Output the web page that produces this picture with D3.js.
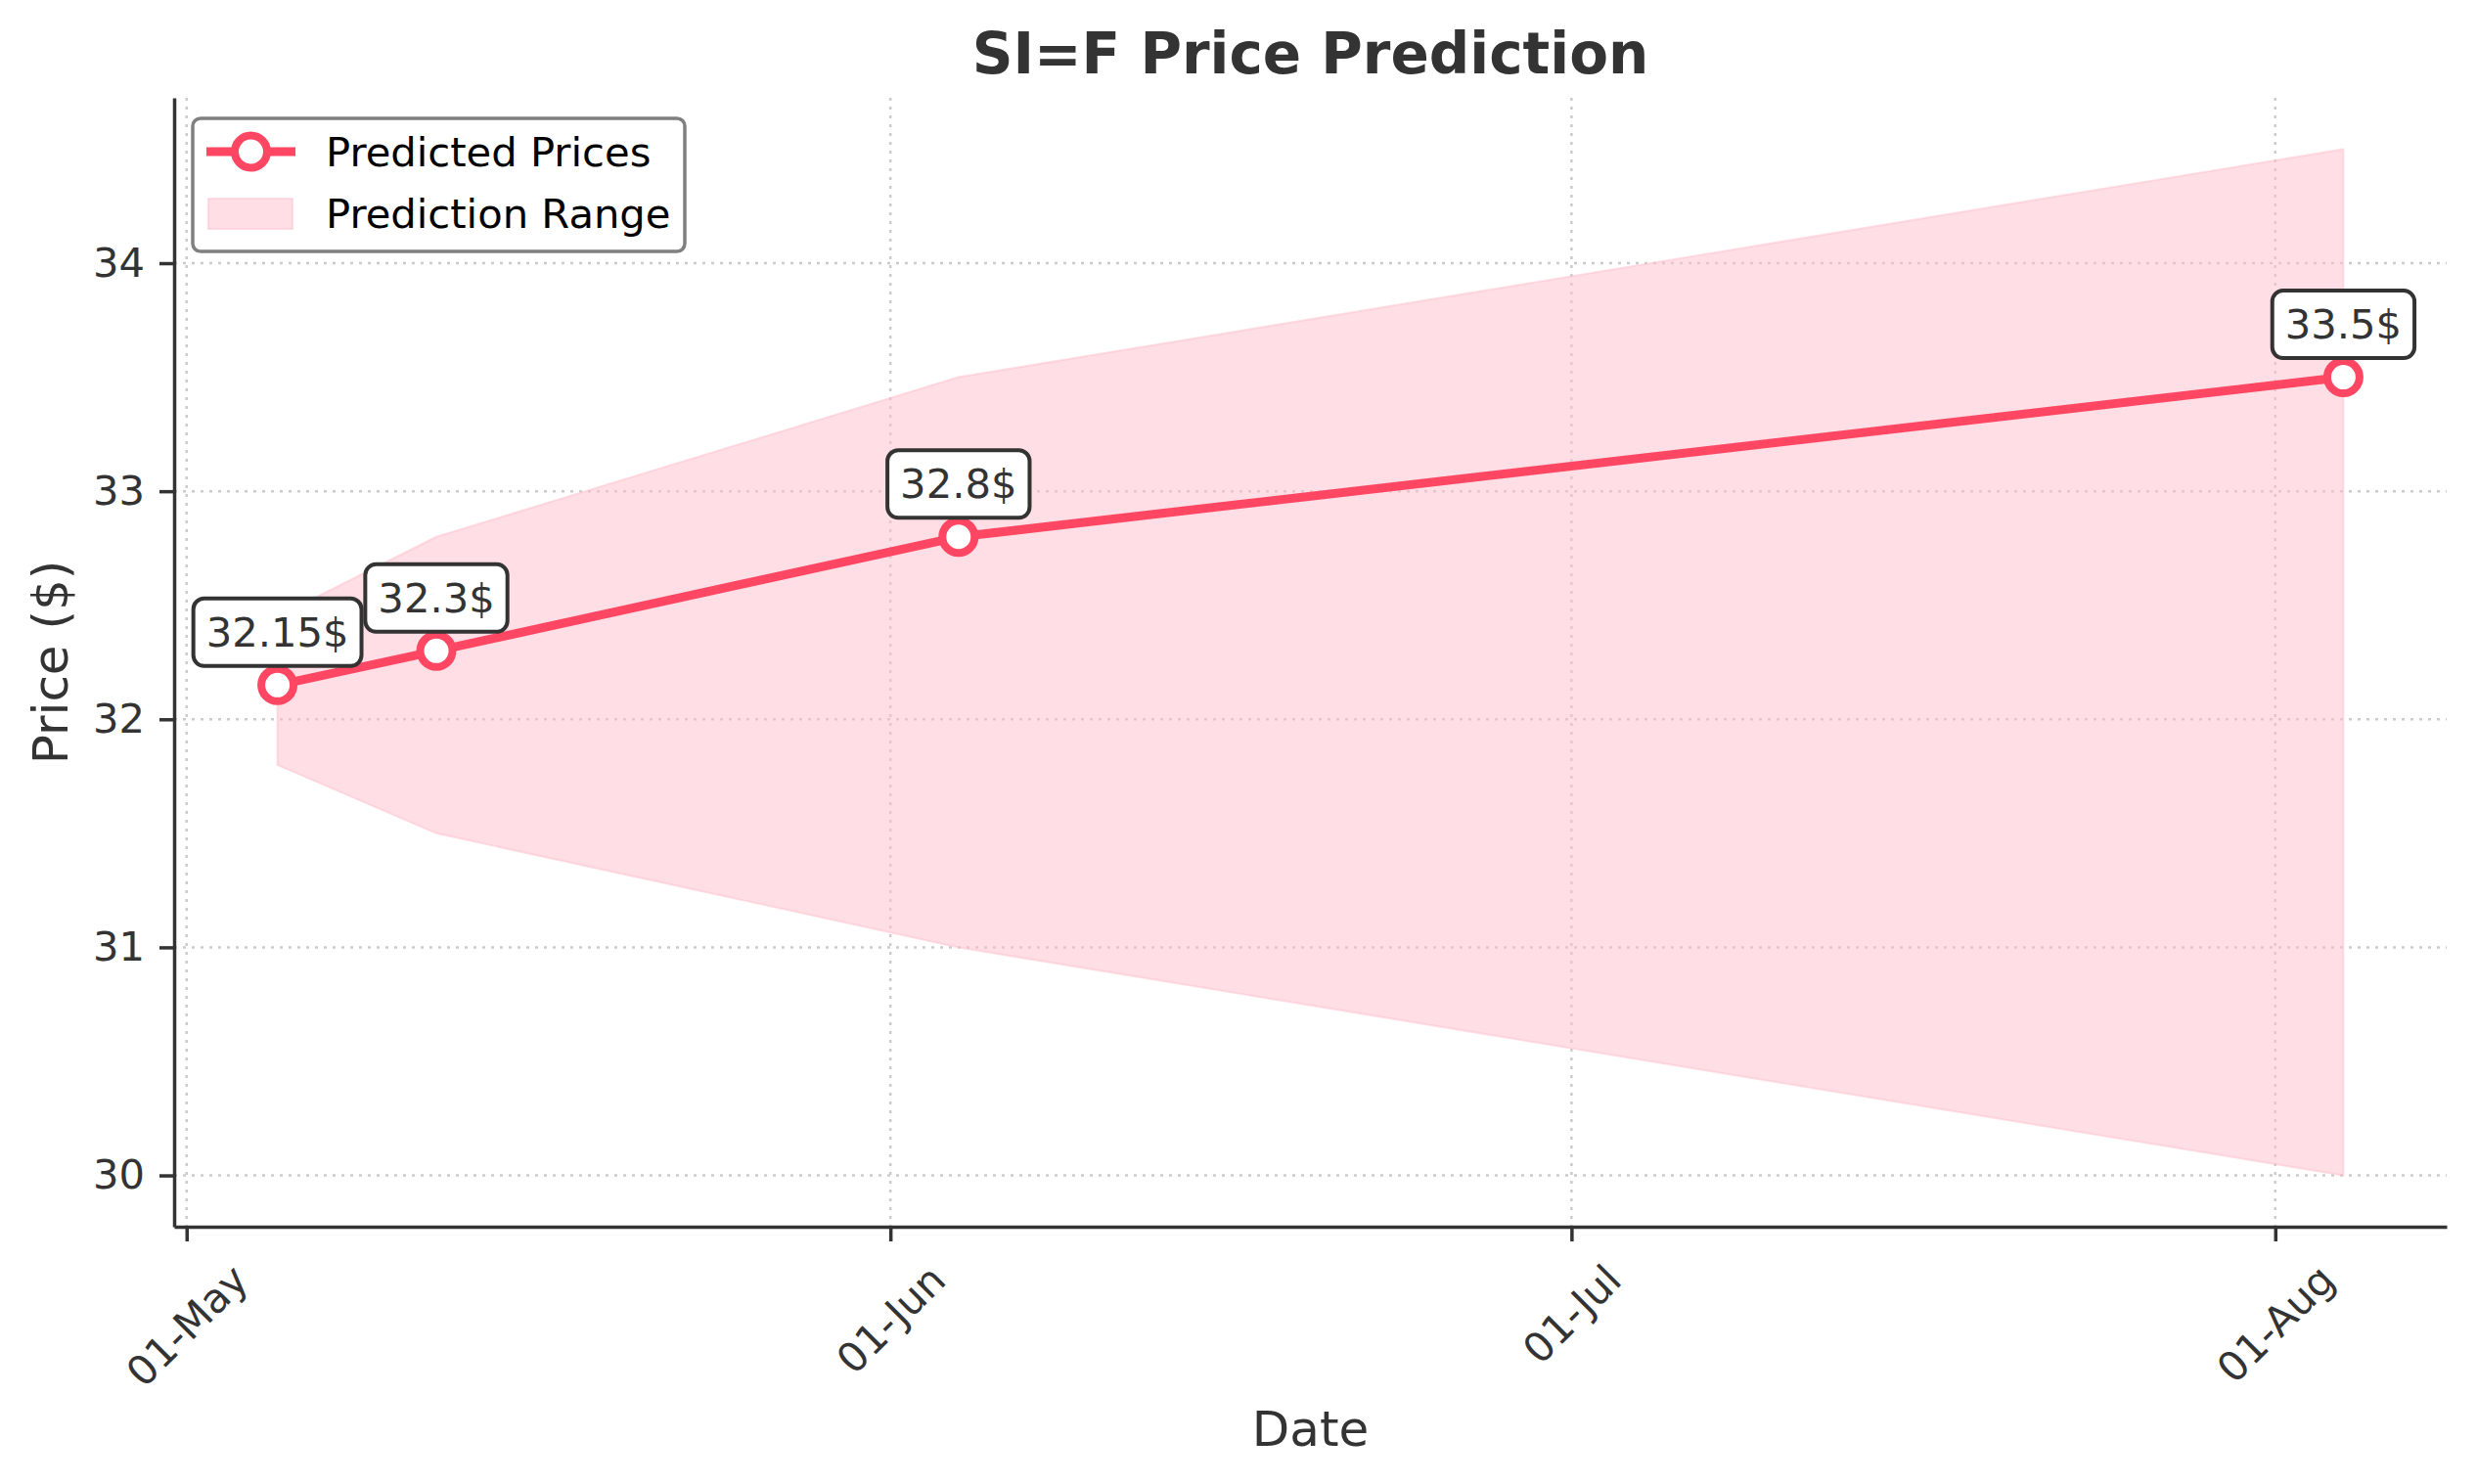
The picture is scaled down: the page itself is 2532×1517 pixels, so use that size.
<!DOCTYPE html>
<html>
<head>
<meta charset="utf-8">
<script src="https://cdn.jsdelivr.net/npm/d3@7"></script>
<style>
body { margin: 0; background: #fff; }
text { font-family: "DejaVu Sans", sans-serif; }
</style>
</head>
<body>
<script>
var dates = ["2024-05-05", "2024-05-12", "2024-06-04", "2024-08-04"];
var predicted = [32.15, 32.3, 32.8, 33.5];
var lower = [31.8, 31.5, 31.0, 30.0];
var upper = [32.45, 32.8, 33.5, 34.5];
var point_labels = ["32.15$", "32.3$", "32.8$", "33.5$"];
var x_ticks = ["2024-05-01", "2024-06-01", "2024-07-01", "2024-08-01"];
var y_ticks = [30, 31, 32, 33, 34];

var width = 2532, height = 1517;
var left = 178, right = 2501, top_ = 100, bottom = 1254;
var line_color = "#ff4763";
var dark = "#333333";
var fs = 41.7;

var parse = d3.timeParse("%Y-%m-%d");
var points = dates.map(function(d, i){
	return {date: parse(d), value: predicted[i], lo: lower[i], hi: upper[i], label: point_labels[i]};
});

var svg = d3.select("body").append("svg")
	.attr("width", width)
	.attr("height", height);
svg.append("rect").attr("width", width).attr("height", height).attr("fill", "#fff");

// scales with 5% margins like matplotlib
var ext = d3.extent(points, function(d){ return d.date; });
var pad = (ext[1] - ext[0]) * 0.05;
var x = d3.scaleTime()
	.domain([new Date(+ext[0] - pad), new Date(+ext[1] + pad)])
	.range([left, right]);
var ymin = d3.min(lower), ymax = d3.max(upper);
var ypad = (ymax - ymin) * 0.05;
var y = d3.scaleLinear()
	.domain([ymin - ypad, ymax + ypad])
	.range([bottom, top_]);

var xt = x_ticks.map(parse);

// grid
var grid = svg.append("g");
grid.selectAll(".gx").data(xt).enter().append("line")
	.attr("x1", function(d){ return x(d); })
	.attr("x2", function(d){ return x(d); })
	.attr("y1", top_).attr("y2", bottom);
grid.selectAll(".gy").data(y_ticks).enter().append("line")
	.attr("y1", function(d){ return y(d); })
	.attr("y2", function(d){ return y(d); })
	.attr("x1", left).attr("x2", right);
grid.selectAll("line")
	.attr("stroke", "#cccccc")
	.attr("stroke-width", 2.5)
	.attr("stroke-dasharray", "3,6");

// prediction range
var area = d3.area()
	.x(function(d){ return x(d.date); })
	.y0(function(d){ return y(d.lo); })
	.y1(function(d){ return y(d.hi); });
svg.append("path")
	.datum(points)
	.attr("d", area)
	.attr("fill", "#ffc0cb")
	.attr("fill-opacity", 0.5)
	.attr("stroke", "#ffc0cb")
	.attr("stroke-opacity", 0.5)
	.attr("stroke-width", 2);

// axes
var xAxis = svg.append("g")
	.attr("transform", "translate(0," + bottom + ")")
	.call(d3.axisBottom(x).tickValues(xt).tickFormat(d3.timeFormat("%d-%b")).tickSize(15).tickSizeOuter(0));
var yAxis = svg.append("g")
	.attr("transform", "translate(" + left + ",0)")
	.call(d3.axisLeft(y).tickValues(y_ticks).tickFormat(d3.format("d")).tickSize(15).tickPadding(15).tickSizeOuter(0));

[xAxis, yAxis].forEach(function(a){
	a.select(".domain").attr("stroke", dark).attr("stroke-width", 3.5);
	a.selectAll(".tick line").attr("stroke", dark).attr("stroke-width", 3.5);
	a.selectAll("text").attr("fill", dark).attr("font-size", fs).attr("font-family", "DejaVu Sans");
});

xAxis.selectAll(".tick text").each(function(){
	var t = d3.select(this);
	var w = this.getComputedTextLength();
	var h = fs * 1.164;
	var cy = 15 + 14.6 + (w + h) * Math.SQRT1_2 / 2;
	t.attr("y", 0).attr("dy", null)
		.attr("text-anchor", "middle")
		.attr("dominant-baseline", "central")
		.attr("transform", "translate(0," + cy + ") rotate(-45)");
});

// predicted line
var line = d3.line()
	.x(function(d){ return x(d.date); })
	.y(function(d){ return y(d.value); });
svg.append("path")
	.datum(points)
	.attr("d", line)
	.attr("fill", "none")
	.attr("stroke", line_color)
	.attr("stroke-width", 9)
	.attr("stroke-linejoin", "round");

svg.selectAll(".marker").data(points).enter().append("circle")
	.attr("cx", function(d){ return x(d.date); })
	.attr("cy", function(d){ return y(d.value); })
	.attr("r", 16.5)
	.attr("fill", "#fff")
	.attr("stroke", line_color)
	.attr("stroke-width", 8);

// value labels
points.forEach(function(d){
	var g = svg.append("g")
		.attr("transform", "translate(" + x(d.date) + "," + (y(d.value) - 54) + ")");
	var rect = g.append("rect");
	var t = g.append("text")
		.attr("text-anchor", "middle")
		.attr("dominant-baseline", "central")
		.attr("font-size", fs)
		.attr("fill", dark)
		.text(d.label);
	var w = t.node().getComputedTextLength();
	rect.attr("x", -w / 2 - 13).attr("y", -34.5)
		.attr("width", w + 26).attr("height", 69)
		.attr("rx", 11).attr("ry", 11)
		.attr("fill", "#fff")
		.attr("stroke", dark)
		.attr("stroke-width", 4);
});

// legend
var legend = svg.append("g");
legend.append("rect")
	.attr("x", 197).attr("y", 121)
	.attr("width", 503).attr("height", 136)
	.attr("rx", 8).attr("ry", 8)
	.attr("fill", "#fff")
	.attr("fill-opacity", 0.8)
	.attr("stroke", "#808080")
	.attr("stroke-width", 3.5);
legend.append("line")
	.attr("x1", 211).attr("x2", 302)
	.attr("y1", 155).attr("y2", 155)
	.attr("stroke", line_color)
	.attr("stroke-width", 9);
legend.append("circle")
	.attr("cx", 256.5).attr("cy", 155).attr("r", 16.5)
	.attr("fill", "#fff")
	.attr("stroke", line_color)
	.attr("stroke-width", 8);
legend.append("rect")
	.attr("x", 213).attr("y", 203)
	.attr("width", 86).attr("height", 31)
	.attr("fill", "#ffc0cb")
	.attr("fill-opacity", 0.5)
	.attr("stroke", "#ffc0cb")
	.attr("stroke-opacity", 0.5)
	.attr("stroke-width", 2);
legend.selectAll(".lt").data(["Predicted Prices", "Prediction Range"]).enter().append("text")
	.attr("x", 333)
	.attr("y", function(d, i){ return 155 + i * 63; })
	.attr("dominant-baseline", "central")
	.attr("font-size", fs)
	.attr("fill", "#000")
	.text(function(d){ return d; });

// titles
svg.append("text")
	.attr("x", (left + right) / 2).attr("y", 75)
	.attr("text-anchor", "middle")
	.attr("font-size", 58)
	.attr("font-weight", "bold")
	.attr("fill", dark)
	.text("SI=F Price Prediction");
svg.append("text")
	.attr("x", (left + right) / 2).attr("y", 1478)
	.attr("text-anchor", "middle")
	.attr("font-size", 50)
	.attr("fill", dark)
	.text("Date");
svg.append("text")
	.attr("transform", "translate(69," + (top_ + bottom) / 2 + ") rotate(-90)")
	.attr("text-anchor", "middle")
	.attr("font-size", 50)
	.attr("fill", dark)
	.text("Price ($)");
</script>
</body>
</html>
